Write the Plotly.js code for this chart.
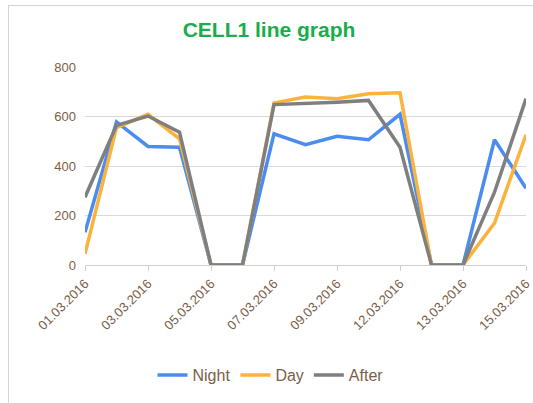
<!DOCTYPE html>
<html>
<head>
<meta charset="utf-8">
<script src="https://cdn.plot.ly/plotly-3.0.1.min.js"></script>
<style>
html,body{margin:0;padding:0;background:#fff;}
#frame{position:absolute;left:8px;top:5px;width:540px;height:410px;border-top:1px solid #d4d4d4;border-left:1px solid #d4d4d4;}
#chart{position:absolute;left:0;top:0;width:533px;height:403px;}
</style>
</head>
<body>
<div id="frame"></div>
<div id="chart"></div>
<script>
var dates = ["01.03.2016","02.03.2016","03.03.2016","04.03.2016","05.03.2016","06.03.2016","07.03.2016","08.03.2016","09.03.2016","10.03.2016","12.03.2016","12.03.2016","13.03.2016","14.03.2016","15.03.2016"];
var night = [132, 578, 479, 476, 0, 0, 530, 486, 520, 506, 609, 0, 0, 506, 310];
var day   = [45, 555, 609, 510, 0, 0, 655, 679, 672, 692, 696, 0, 0, 169, 526];
var after = [274, 564, 602, 537, 0, 0, 648, 652, 658, 665, 476, 0, 0, 294, 672];
var yTicks = [0, 200, 400, 600, 800];

var idx = dates.map(function(d, i){ return i; });
var shownIdx = idx.filter(function(i){ return i % 2 === 0; });
var shownText = shownIdx.map(function(i){ return dates[i]; });

var lblColor = '#7a6047';
function tr(name, y, color){
  return {x: idx, y: y, name: name, type: 'scatter', mode: 'lines',
          line: {color: color, width: 3.5}, cliponaxis: false};
}
var data = [tr('Night', night, '#4a8cf0'), tr('Day', day, '#fbb23e'), tr('After', after, '#7f7f7f')];

var layout = {
  width: 533, height: 403,
  paper_bgcolor: 'rgba(0,0,0,0)', plot_bgcolor: 'rgba(0,0,0,0)',
  margin: {l: 85, r: 7, t: 67, b: 138},
  title: {text: '<b>CELL1 line graph</b>', x: 269/533, xanchor: 'center', y: 1 - 30/403, yanchor: 'middle',
          font: {family: 'Arial, Liberation Sans, sans-serif', size: 21, color: '#17ae4b'}},
  font: {family: 'Arial, Liberation Sans, sans-serif', size: 13, color: lblColor},
  xaxis: {range: [0, 14], tickmode: 'array', tickvals: shownIdx, ticktext: shownText,
          tickangle: -45, ticks: 'outside', ticklen: 5, tickcolor: '#d0d0d0',
          showgrid: false, zeroline: false, showline: true, linecolor: '#d0d0d0', linewidth: 1,
          tickfont: {size: 13, color: lblColor}, fixedrange: true},
  yaxis: {range: [0, 800], tickmode: 'array', tickvals: yTicks, ticktext: yTicks.map(String),
          showgrid: true, gridcolor: '#d9d9d9', gridwidth: 1, zeroline: false, showline: false,
          ticks: '', ticklabelstandoff: 8, tickfont: {size: 13, color: lblColor}, fixedrange: true},
  showlegend: true,
  legend: {orientation: 'h', x: 0.5 - (305-270)/441, xanchor: 'center', y: -(375-265)/198, yanchor: 'middle',
           font: {size: 16, color: lblColor}, itemwidth: 30, tracegroupgap: 0},
};
Plotly.newPlot('chart', data, layout, {displayModeBar: false, staticPlot: true});
</script>
</body>
</html>
